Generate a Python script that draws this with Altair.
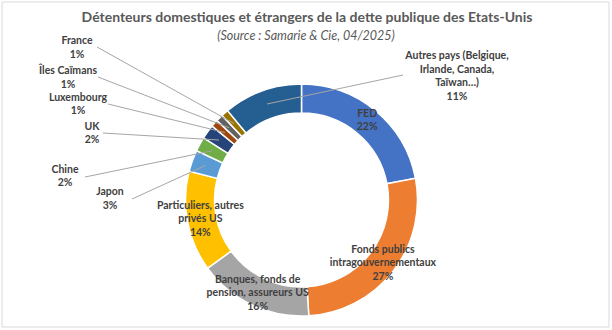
import math
import altair as alt
import pandas as pd

# ---- data ----
categories = [
    "FED",
    "Fonds publics intragouvernementaux",
    "Banques, fonds de pension, assureurs US",
    "Particuliers, autres privés US",
    "Japon",
    "Chine",
    "UK",
    "Luxembourg",
    "Îles Caïmans",
    "France",
    "Autres pays (Belgique, Irlande, Canada, Taïwan…)",
]
label_names = [
    "FED",
    "Fonds publics\nintragouvernementaux",
    "Banques, fonds de\npension, assureurs US",
    "Particuliers, autres\nprivés US",
    "Japon",
    "Chine",
    "UK",
    "Luxembourg",
    "Îles Caïmans",
    "France",
    "Autres pays (Belgique,\nIrlande, Canada,\nTaïwan…)",
]
values = [22, 27, 16, 14, 3, 2, 2, 1, 1, 1, 11]
colors = ["#4472C4", "#ED7D31", "#A5A5A5", "#FFC000", "#5B9BD5", "#70AD47",
          "#264478", "#9E480E", "#636363", "#997300", "#255E91"]
inside = [True, True, True, True, False, False, False, False, False, False, False]

title = "Détenteurs domestiques et étrangers de la dette publique des Etats-Unis"
subtitle = "(Source : Samarie & Cie, 04/2025)"

# ---- layout (pixels) ----
W, H = 612, 330
CX, CY = 301.5, 200
R_OUT, R_IN = 116, 87
R_LAB = 103      # radius of inside labels
R_LEAD = 102     # radius where leader lines end
LH = 13.5        # line height
FONT = "Lato"
TXT = "#404040"
# outside label block centres and leader start points
outside_layout = {
    4: ((110, 199), (132, 199)),
    5: ((65, 176.5), (85, 177)),
    6: ((92, 133.5), (103, 133)),
    7: ((78, 104.5), (108, 104)),
    8: ((68, 78), (98, 77)),
    9: ((77, 48), (97, 47)),
    10: ((457, 76.5), (403, 75)),
}

total = sum(values)
text_rows, lead_rows, arc_rows = [], [], []
cum = 0
for i, (c, v) in enumerate(zip(categories, values)):
    mid = (cum + v / 2) / total * 2 * math.pi
    cum += v
    arc_rows.append({"idx": i, "cat": c, "value": v})
    lab = f"{label_names[i]}\n{v}%"
    nlines = lab.count("\n") + 1
    if inside[i]:
        bx = CX + R_LAB * math.sin(mid)
        by = CY - R_LAB * math.cos(mid)
    else:
        (bx, by), (sx, sy) = outside_layout[i]
        lead_rows.append({"sx": sx, "sy": sy,
                          "ex": CX + R_LEAD * math.sin(mid),
                          "ey": CY - R_LEAD * math.cos(mid)})
    # first line position so that the block is centred on (bx, by)
    text_rows.append({"label": lab, "lx": bx, "ly": by - (nlines - 1) * LH / 2})

df = pd.DataFrame(arc_rows)
dft = pd.DataFrame(text_rows)
dfl = pd.DataFrame(lead_rows)

color_scale = alt.Scale(domain=categories, range=colors)

arcs = alt.Chart(df).mark_arc(
    innerRadius=R_IN, outerRadius=R_OUT, stroke="white", strokeWidth=1.5
).encode(
    theta=alt.Theta("value:Q", stack=True),
    order=alt.Order("idx:Q"),
    color=alt.Color("cat:N", scale=color_scale, legend=None),
    x=alt.value(CX), y=alt.value(CY),
)

leaders = alt.Chart(dfl).mark_rule(color="#A6A6A6", strokeWidth=1).encode(
    x=alt.X("sx:Q", scale=None), y=alt.Y("sy:Q", scale=None),
    x2="ex:Q", y2="ey:Q",
)

labels = alt.Chart(dft).mark_text(
    font=FONT, fontSize=10.5, fontWeight="bold", color=TXT,
    lineBreak="\n", lineHeight=LH, align="center", baseline="middle"
).encode(
    x=alt.X("lx:Q", scale=None), y=alt.Y("ly:Q", scale=None),
    text="label:N",
)

tdf = pd.DataFrame({"t": [title], "s": [subtitle]})
title_text = alt.Chart(tdf).mark_text(
    font=FONT, fontSize=14, fontWeight="bold", color="#595959",
    align="center", baseline="middle"
).encode(x=alt.value(307), y=alt.value(18), text="t:N")
sub_text = alt.Chart(tdf).mark_text(
    font=FONT, fontSize=12.5, fontStyle="italic", color="#595959",
    align="center", baseline="middle"
).encode(x=alt.value(306), y=alt.value(36), text="s:N")

border = alt.Chart(tdf).mark_rect(fill="transparent", stroke="#D9D9D9", strokeWidth=1).encode(
    x=alt.value(2), x2=alt.value(609), y=alt.value(2), y2=alt.value(327)
)

chart = alt.layer(border, arcs, leaders, labels, title_text, sub_text).properties(
    width=W, height=H, autosize=alt.AutoSizeParams(type="none"), padding=0,
    background="white"
).configure_view(stroke=None)

chart.save("out.html", embed_options={"renderer": "svg", "actions": False})
